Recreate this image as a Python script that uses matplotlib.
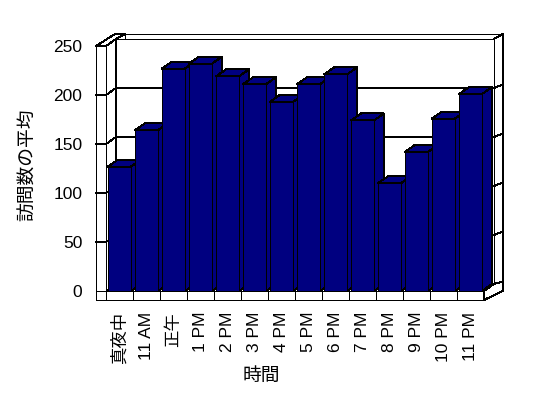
import numpy as np
import matplotlib.pyplot as plt
from matplotlib.patches import Polygon

plt.rcParams['font.family'] = ['Liberation Sans', 'Noto Sans CJK JP', 'DejaVu Sans']

hours = ['真夜中', '11 AM', '正午', '1 PM', '2 PM', '3 PM', '4 PM', '5 PM',
         '6 PM', '7 PM', '8 PM', '9 PM', '10 PM', '11 PM']
visits = [127, 164, 227, 232, 219, 211, 193, 211, 221, 174, 110, 142, 176, 201]
yticks = [0, 50, 100, 150, 200, 250]

W, H = 548, 398
fig = plt.figure(figsize=(W / 100, H / 100), dpi=100)
# front plane of the plot box, in pixels
px_l, px_r, px_b, px_t = 106, 484, 291, 46
ax = fig.add_axes([px_l / W, 1 - px_b / H, (px_r - px_l) / W, (px_b - px_t) / H])
ax.set_xlim(-0.5, len(hours) - 0.5)
ax.set_ylim(0, 250)
for s in ax.spines.values():
    s.set_visible(False)

# pixel -> data conversion for the pseudo 3d offsets
sx = (px_r - px_l) / len(hours)
sy = (px_b - px_t) / 250
dx, dy = 10 / sx, 7 / sy          # depth of the box
tx, ty = 9 / sx, 5 / sy           # thickness of the back wall
lw_x = 10 / sx                    # thickness of the left wall
fl_y = 9 / sy                     # thickness of the floor
x0, x1 = ax.get_xlim()
y0, y1 = ax.get_ylim()

navy = '#000080'
LW = 0.7
K = dict(color='black', lw=LW, clip_on=False, antialiased=False)

def poly(pts, fc='white', z=1):
    ax.add_patch(Polygon(pts, closed=True, fc=fc, ec='black', lw=LW,
                         clip_on=False, antialiased=False, zorder=z))

# back wall: back face, right side, inner face
poly([(x0 + dx + tx, y0 + dy + ty), (x1 + dx + tx, y0 + dy + ty),
      (x1 + dx + tx, y1 + dy + ty), (x0 + dx + tx, y1 + dy + ty)])
poly([(x1 + dx, y0 + dy), (x1 + dx + tx, y0 + dy + ty - fl_y * 0.3),
      (x1 + dx + tx, y1 + dy + ty), (x1 + dx, y1 + dy)])
poly([(x0 + dx, y0 + dy), (x1 + dx, y0 + dy), (x1 + dx, y1 + dy), (x0 + dx, y1 + dy)])
# left wall: top face, inner face, front face
poly([(x0 - lw_x, y1), (x0, y1), (x0 + dx, y1 + dy),
      (x0 + dx + tx, y1 + dy + ty), (x0 - lw_x + dx + tx, y1 + dy + ty)])
poly([(x0, y0), (x0 + dx, y0 + dy), (x0 + dx, y1 + dy), (x0, y1)])
poly([(x0 - lw_x, y0 - fl_y), (x0, y0 - fl_y), (x0, y1), (x0 - lw_x, y1)])
# floor: front face and right side
poly([(x0, y0 - fl_y), (x1, y0 - fl_y), (x1, y0), (x0, y0)])
poly([(x1, y0 - fl_y), (x1 + dx + tx, y0 - fl_y + dy + ty - fl_y * 0.3),
      (x1 + dx + tx, y0 + dy + ty - fl_y * 0.3), (x1 + dx, y0 + dy), (x1, y0)])
for i in range(1, len(hours)):
    ax.plot([x0 + i, x0 + i], [y0 - fl_y, y0], zorder=2, **K)

# gridlines on walls
for v in yticks[1:-1]:
    ax.plot([x0 - lw_x, x0, x0 + dx, x1 + dx, x1 + dx + tx],
            [v, v, v + dy, v + dy, v + dy + ty * 0.7], zorder=2, **K)
ax.plot([x0 - lw_x, x0], [y0, y0], zorder=2, **K)

# bars
bw = 23 / 27
bars = ax.bar(np.arange(len(hours)), visits, width=bw, color=navy,
              edgecolor='black', lw=LW, zorder=3)
for i, b in enumerate(bars):
    l, r, h = b.get_x(), b.get_x() + b.get_width(), b.get_height()
    z = 3 + i * 0.01
    poly([(r, 0), (r + dx, dy), (r + dx, h + dy), (r, h)], fc=navy, z=z)
    poly([(l, h), (r, h), (r + dx, h + dy), (l + dx, h + dy)], fc=navy, z=z)
    b.set_zorder(z + 0.001)
    b.set_antialiased(False)

ax.set_yticks(yticks)
ax.set_xticks(np.arange(len(hours)))
ax.set_xticklabels(hours, rotation=90)
ax.tick_params(axis='y', length=0, pad=17, labelsize=12.5)
ax.tick_params(axis='x', length=0, pad=15, labelsize=12.5)

ax.set_ylabel('訪問数の平均', fontsize=13.5)
ax.yaxis.set_label_coords(-0.1825, 0.514)
ax.set_xlabel('時間', fontsize=13.5)
ax.xaxis.set_label_coords(0.411, -0.314)

fig.savefig('out.png', dpi=100)
